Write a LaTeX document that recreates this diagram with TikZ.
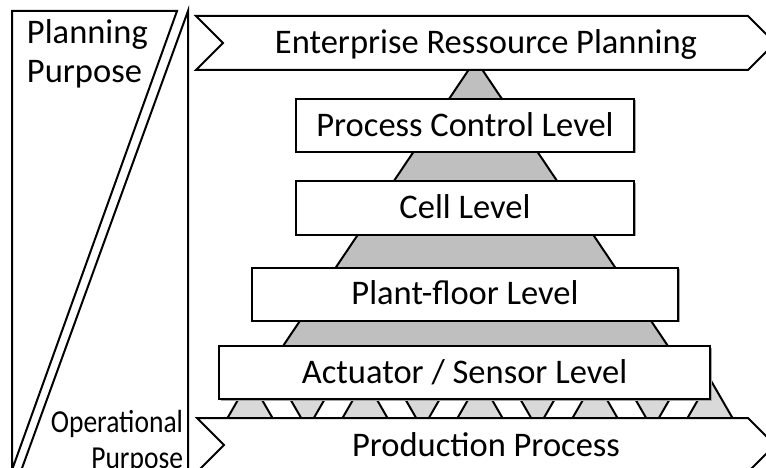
\documentclass[tikz,border=0pt]{standalone}
\usepackage{fontspec}
\setmainfont{Carlito}
\newfontfamily\narrowfont[FakeStretch=0.86]{Carlito}
\usetikzlibrary{shadows}

\definecolor{pyrgray}{gray}{0.75}
\definecolor{stripgray}{gray}{0.85}
\newcommand{\labelfont}{\fontsize{34.5}{39}\selectfont}
\newcommand{\purposefont}{\narrowfont\fontsize{32}{36}\selectfont}

\tikzset{
  lbl/.style={font=\labelfont, inner sep=0pt, text height=21.5pt, text depth=0pt},
  lvlbox/.style={lbl, draw, fill=white, minimum height=53pt,
    drop shadow={shadow xshift=1.5pt, shadow yshift=-1.5pt, fill=black!35, opacity=1}},
}

\begin{document}
\begin{tikzpicture}[x=1pt,y=-1pt,line width=2pt]
  \useasboundingbox (0,0) rectangle (766,468);
  \clip (0,0) rectangle (766,468);
  % purpose panel
  \draw (12,11) -- (177,11) -- (12,470) -- cycle;
  \draw (188,11) -- (188,480) -- (17.7,480) -- cycle;
  \node[font=\labelfont, align=left, anchor=north west, inner sep=0pt] (plan) at (26,19) {Planning\\Purpose};
  \node[font=\purposefont, align=right, anchor=north east, inner sep=0pt] (oper) at (184,409) {Operational\\Purpose};
  % pyramid
  \filldraw[fill=pyrgray] (475.5,59.6) -- (260.2,380) -- (690.8,380) -- cycle;
  % ground strip
  \foreach \cx in {250,365,...,710}
    \filldraw[fill=stripgray] ({\cx-22.5},418) -- (\cx,379) -- ({\cx+22.5},418) -- cycle;
  \foreach \cx in {307.5,422.5,...,652.5}
    \filldraw[fill=stripgray] ({\cx-22.5},390) -- (\cx,429) -- ({\cx+22.5},390) -- cycle;
  % levels
  \node[lvlbox, minimum width=338pt] (pcl) at (465,125.5) {Process Control Level};
  \node[lvlbox, minimum width=338pt] (cell) at (465,208) {Cell Level};
  \node[lvlbox, minimum width=426pt] (plant) at (465,294) {Plant-floor Level};
  \node[lvlbox, minimum width=491pt] (act) at (464.5,372.5) {Actuator / Sensor Level};
  % top and bottom arrows
  \filldraw[fill=white] (196,16) -- (748,16) -- (775,43) -- (748,70) -- (196,70) -- (223,43) -- cycle;
  \node[lbl] (erp) at (486,43) {Enterprise Ressource Planning};
  \filldraw[fill=white] (197,418) -- (748,418) -- (775,445) -- (748,472) -- (197,472) -- (224,445) -- cycle;
  \node[lbl] (prod) at (486,446) {Production Process};
\end{tikzpicture}
\end{document}
